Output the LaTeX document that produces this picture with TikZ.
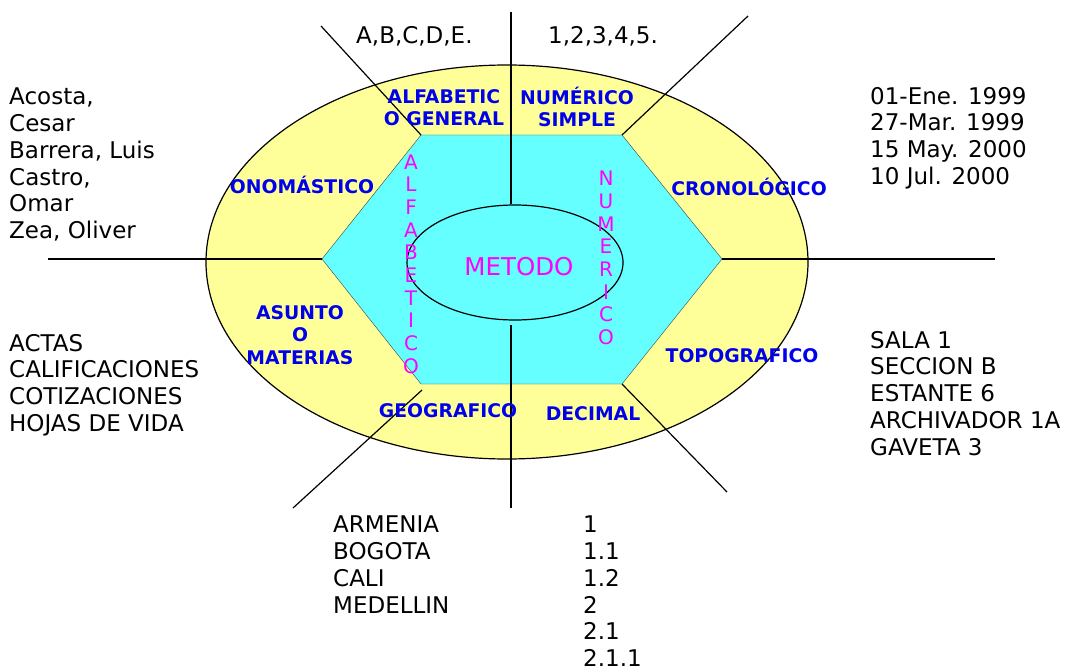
\documentclass[tikz,border=0pt]{standalone}
\usepackage{fontspec}
\setmainfont{DejaVu Sans}
\usetikzlibrary{shapes.geometric}
\definecolor{amarillo}{RGB}{255,255,153}
\definecolor{celeste}{RGB}{102,255,255}
\definecolor{azul}{RGB}{0,0,235}
\definecolor{rosa}{RGB}{255,0,255}
\tikzset{
  lista/.style={anchor=north west,inner sep=0pt,align=left,font=\fontsize{23}{26.7}\selectfont},
  clase/.style={text=azul,align=center,inner sep=0pt,font=\bfseries\fontsize{18.8}{22.3}\selectfont},
  vertical/.style={text=rosa,align=center,inner sep=0pt,font=\fontsize{20}{22.7}\selectfont},
  linea/.style={line width=1.2pt}
}
\begin{document}
\begin{tikzpicture}[x=1pt,y=-1pt]
\useasboundingbox (0,0) rectangle (1067,671);
\node[ellipse,draw=black,line width=1.2pt,fill=amarillo,minimum width=602pt,minimum height=394pt,inner sep=0pt] (anillo) at (507,262) {};
\coordinate (h1) at (421,135);
\coordinate (h2) at (622,135);
\coordinate (h3) at (722,259);
\coordinate (h4) at (622,384);
\coordinate (h5) at (421,384);
\coordinate (h6) at (322,259);
\draw[fill=celeste,draw=black!75] (h1) -- (h2) -- (h3) -- (h4) -- (h5) -- (h6) -- cycle;
\node[ellipse,draw=black,line width=1.2pt,minimum width=216pt,minimum height=115pt,inner sep=0pt] (centro) at (515,262.5) {};

\coordinate (n) at (511,12);
\coordinate (s) at (511,508);
\coordinate (s1) at (511,325);
\coordinate (no) at (321,26);
\coordinate (ne) at (748,16);
\coordinate (so) at (293,508);
\coordinate (so1) at (422,390);
\coordinate (se) at (727,492);
\coordinate (o) at (48,259);
\coordinate (e) at (995,259);
\draw[linea] (n) -- (n |- centro.north);
\draw[linea] (s1) -- (s);
\draw[linea] (no) -- (h1);
\draw[linea] (ne) -- (h2);
\draw[linea] (h6) -- (o);
\draw[linea] (h3) -- (e);
\draw[linea] (so1) -- (so);
\draw[linea] (h4) -- (se);

\node[lista] (nombres) at (9,88) {Acosta,\\Cesar\\Barrera, Luis\\Castro,\\Omar\\Zea, Oliver};
\node[lista] (asuntos) at (9,334) {ACTAS\\CALIFICACIONES\\COTIZACIONES\\HOJAS DE VIDA};
\node[lista] (fechas) at (870,87) {01-Ene. 1999\\27-Mar. 1999\\15 May. 2000\\10 Jul. 2000};
\node[lista] (lugares) at (870,331) {SALA 1\\SECCION B\\ESTANTE 6\\ARCHIVADOR 1A\\GAVETA 3};
\node[lista] (ciudades) at (333,516) {ARMENIA\\BOGOTA\\CALI\\MEDELLIN};
\node[lista] (decimales) at (583,516) {1\\1.1\\1.2\\2\\2.1\\2.1.1};
\node[lista] (letras) at (356,26) {A,B,C,D,E.};
\node[lista] (numeros) at (548,26) {1,2,3,4,5.};

\node[clase] (alfgen) at (444,108) {ALFABETIC\\O GENERAL};
\node[clase] (numsim) at (577,107) {NUMÉRICO\\SIMPLE};
\node[clase] (onom) at (302,185) {ONOMÁSTICO};
\node[clase] (crono) at (749,187) {CRONOLÓGICO};
\node[clase] (asunto) at (300,335) {ASUNTO\\O\\MATERIAS};
\node[clase] (topo) at (742,356) {TOPOGRAFICO};
\node[clase] (geo) at (448,411) {GEOGRAFICO};
\node[clase] (deci) at (593,414) {DECIMAL};

\node[text=rosa,inner sep=0pt,font=\fontsize{24.5}{28}\selectfont] (metodo) at (519,267) {METODO};
\node[vertical] (alfabetico) at (411,264) {A\\L\\F\\A\\B\\E\\T\\I\\C\\O};
\node[vertical] (numerico) at (606,258) {N\\U\\M\\E\\R\\I\\C\\O};
\end{tikzpicture}
\end{document}
